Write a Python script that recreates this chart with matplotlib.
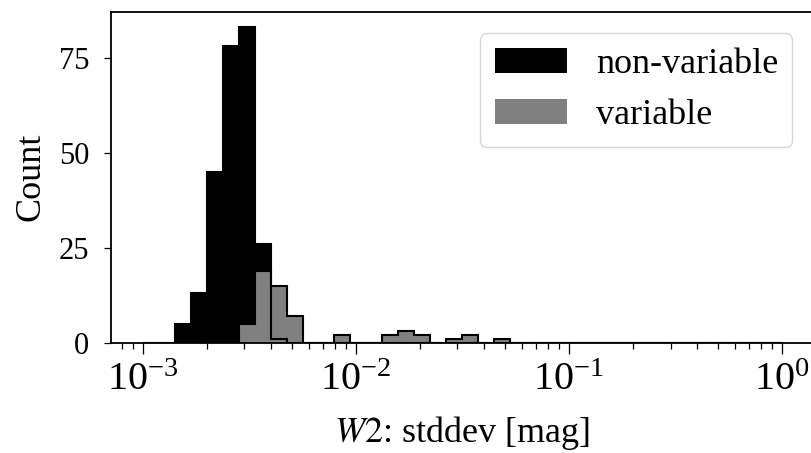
import numpy as np
import matplotlib
matplotlib.use("Agg")
import matplotlib.pyplot as plt

plt.rcParams.update({
    "font.family": ["Liberation Serif", "DejaVu Serif"],
    "mathtext.fontset": "stix",
    "axes.linewidth": 1.3,
})

# log-spaced bins, 40 bins over 1e-3 .. 1e0
BIN_EDGES = np.logspace(-3, 0, 41)

# counts per bin
NONVAR_COUNTS = [0, 0, 5, 13, 45, 78, 83, 26, 1, 0,
                 0, 0, 0, 0, 0, 0, 0, 0, 0, 0,
                 0, 0, 0, 0, 0, 0, 0, 0, 0, 0,
                 0, 0, 0, 0, 0, 0, 0, 0, 0, 0]
# variable sample only spans bins 4..39
VAR_FIRST_BIN = 4
VAR_COUNTS = [0, 0, 5, 19, 15, 7, 0, 0, 2, 0,
              0, 2, 3, 2, 0, 1, 2, 0, 1, 0,
              0, 0, 0, 0, 0, 0, 0, 0, 0, 0,
              0, 0, 0, 0, 0, 0]

LABELS = ["non-variable", "variable"]
YTICKS = [0, 25, 50, 75]


def main():
    fig = plt.figure(figsize=(8.11, 4.53), dpi=100)
    ax = fig.add_axes([0.1365, 0.2435, 0.8672, 0.7307])

    var_edges = BIN_EDGES[VAR_FIRST_BIN:]

    # filled histograms (these go in the legend)
    ax.stairs(NONVAR_COUNTS, BIN_EDGES, fill=True, color="black", label=LABELS[0])
    ax.stairs(VAR_COUNTS, var_edges, fill=True, color="gray", label=LABELS[1])
    # black outlines on top
    ax.stairs(VAR_COUNTS, var_edges, color="black", linewidth=1.5)
    ax.stairs(NONVAR_COUNTS, BIN_EDGES, color="black", linewidth=1.5)

    ax.set_xscale("log")
    ax.set_xlim(10 ** -3.15, 10 ** 0.15)
    ax.set_ylim(0, max(NONVAR_COUNTS) * 1.05)
    ax.set_yticks(YTICKS)

    ax.tick_params(axis="x", which="major", labelsize=29, length=7.9, width=0.9, pad=6)
    ax.tick_params(axis="x", which="minor", length=4.3, width=0.9)
    ax.tick_params(axis="y", which="major", labelsize=22, length=5.3, width=0.9, pad=10)

    ax.set_xlabel("$W2$: stddev [mag]", fontsize=26, labelpad=11)
    ax.set_ylabel("Count", fontsize=26, labelpad=8)

    ax.legend(loc="upper right", fontsize=26, borderaxespad=0.6)

    fig.savefig("out.png", dpi=100)
    plt.close(fig)


if __name__ == "__main__":
    main()
